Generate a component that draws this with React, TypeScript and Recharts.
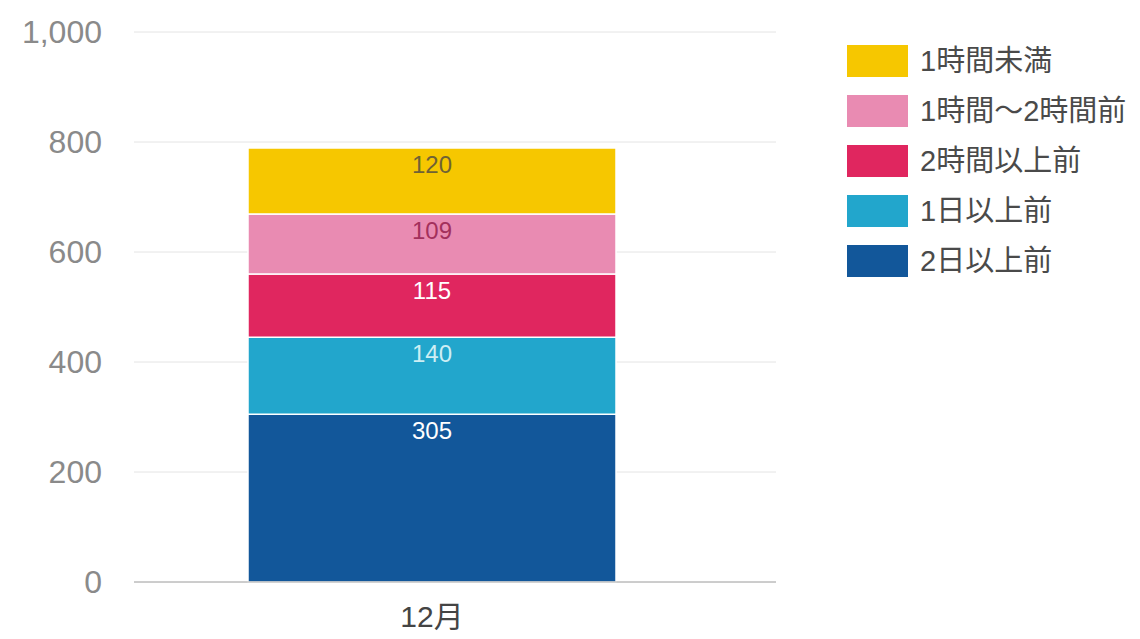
import { BarChart, Bar, XAxis, YAxis, CartesianGrid, LabelList } from "recharts";

const categories = ["12月"];
const seriesNames = ["2日以上前", "1日以上前", "2時間以上前", "1時間～2時間前", "1時間未満"];
const seriesValues = [[305], [140], [115], [109], [120]];
const seriesColors = ["#12579a", "#22a6cc", "#e0265f", "#e98bb2", "#f6c700"];
const labelColors = ["#ffffff", "#cdeef4", "#ffffff", "#a3305c", "#6f6235"];
const yTicks = [0, 200, 400, 600, 800, 1000];

const FONT = "'Liberation Sans', 'Noto Sans CJK JP', sans-serif";

const data = categories.map((c, i) => {
  const row: Record<string, string | number> = { name: c };
  seriesNames.forEach((s, j) => { row[s] = seriesValues[j][i]; });
  return row;
});

export default function App() {
  return (
    <div style={{ position: "relative", width: 1140, height: 639, background: "#fff", fontFamily: FONT }}>
      <style>{"body{margin:0}"}</style>
      <BarChart width={1140} height={639} data={data}
        margin={{ top: 32, right: 364, bottom: 27, left: 0 }} barSize={368}>
        <CartesianGrid vertical={false} stroke="#e4e4e4" />
        <XAxis dataKey="name" padding={{ left: 0, right: 46 }} tickLine={false}
          axisLine={{ stroke: "#a8a8a8" }} tickMargin={18}
          tick={{ fill: "#444", fontSize: 30, fontFamily: FONT }} />
        <YAxis width={134} domain={[0, 1000]} ticks={yTicks} axisLine={false} tickLine={false}
          tickMargin={26} tickFormatter={v => Number(v).toLocaleString("en-US")}
          tick={{ fill: "#8a8a8a", fontSize: 32, fontFamily: FONT }} />
        {seriesNames.map((s, j) => (
          <Bar key={s} dataKey={s} stackId="a" fill={seriesColors[j]} stroke="#fff" strokeWidth={1.5}
            isAnimationActive={false}>
            <LabelList dataKey={s} position="insideTop" offset={8}
              style={{ fill: labelColors[j], fontSize: 24, fontFamily: FONT }} />
          </Bar>
        ))}
      </BarChart>
      <div style={{ position: "absolute", left: 847, top: 45 }}>
        {seriesNames.map((s, j) => seriesNames.length - 1 - j).map(k => (
          <div key={seriesNames[k]} style={{ display: "flex", alignItems: "center", height: 32, marginBottom: 18 }}>
            <div style={{ width: 61, height: 32, background: seriesColors[k] }} />
            <span style={{ marginLeft: 12, fontSize: 29, color: "#4a4a4a", lineHeight: "32px" }}>{seriesNames[k]}</span>
          </div>
        ))}
      </div>
    </div>
  );
}
